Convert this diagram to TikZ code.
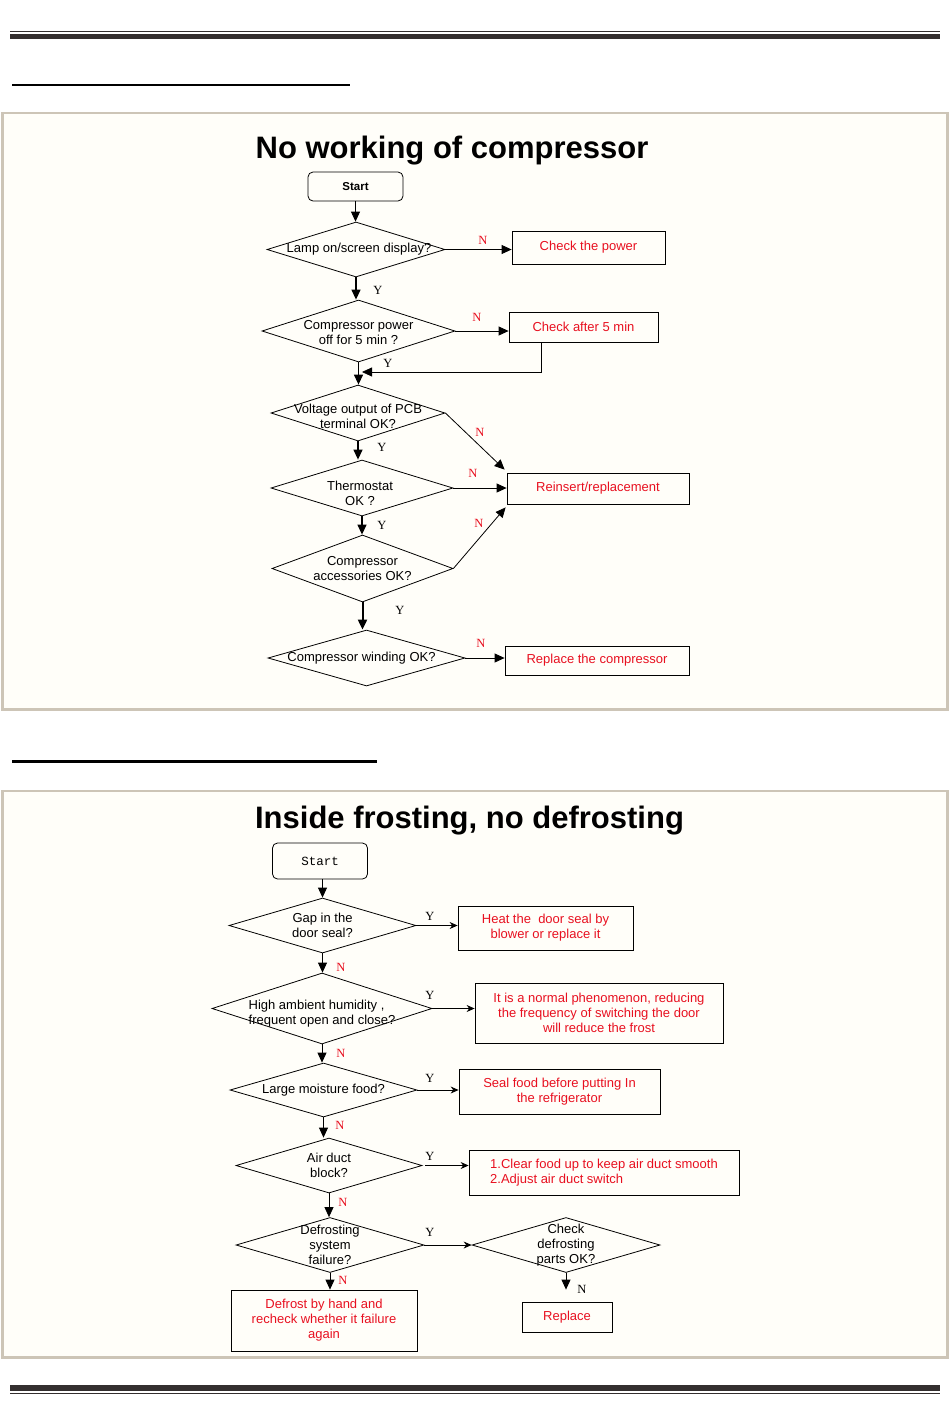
\documentclass[tikz,border=0pt]{standalone}
\usepackage{fontspec}
\setmainfont{Liberation Sans}
\newfontfamily\labelfont{Liberation Serif}
\newfontfamily\startfont{Liberation Mono}
\usepackage{tikz}
\usetikzlibrary{arrows.meta,shapes.geometric}

\definecolor{framegray}{RGB}{205,197,183}
\definecolor{rulegray}{RGB}{52,47,47}
\definecolor{txtred}{RGB}{232,16,32}

\begin{document}
\begin{tikzpicture}[x=1pt,y=-1pt,>={Triangle[length=10pt,width=9pt]},line width=0.8pt,
    every node/.style={font=\fontsize{13}{15}\selectfont},
    dia/.style 2 args={diamond,draw,inner sep=0pt,minimum width=#1pt,minimum height=#2pt},
    box/.style 2 args={rectangle,draw,inner sep=0pt,minimum width=#1pt,minimum height=#2pt,text=txtred,align=center},
    startbox/.style 2 args={rectangle,rounded corners=5pt,draw,minimum width=#1pt,minimum height=#2pt},
    ylab/.style={font=\labelfont\fontsize{12.5}{12}\selectfont},
    nlab/.style={ylab,text=txtred},
    title/.style={anchor=base,font=\bfseries\fontsize{31}{31}\selectfont},
    frame/.style={draw=framegray,line width=2.5pt,fill={rgb,255:red,255;green,254;blue,249}},
    yarrow/.style={-{Stealth[length=8pt,width=7pt]}}]

  \useasboundingbox (0,0) rectangle (950,1419);
  \fill[white] (0,0) rectangle (950,1419);

  % page rules
  \draw[rulegray,line width=1.2pt] (10,31.3) -- (940,31.3);
  \fill[rulegray] (10,33.5) rectangle (940,39.2);
  \draw[line width=2.5pt] (12,85) -- (350,85);
  \draw[line width=2.5pt] (12,761.5) -- (377,761.5);
  \fill[rulegray] (10,1385) rectangle (940,1391);
  \draw[rulegray,line width=1.2pt] (10,1393.5) -- (940,1393.5);

  \draw[frame] (2.5,113) rectangle (947.5,709.5);
  \draw[frame] (2.5,791) rectangle (947.5,1357.5);

  % no working of compressor
  \node[title] (title1) at (452,158) {No working of compressor};
  \node[startbox={95}{29},font=\bfseries\fontsize{11.5}{13}\selectfont] (start1) at (355.5,186.5) {Start};
  \node[dia={178}{55},label={[xshift=3pt]center:Lamp on/screen display?}] (lamp) at (356,249.5) {};
  \node[box={153}{33}] (power) at (588.5,247.5) {Check the power};
  \node[dia={193}{62},label={[align=center,yshift=-2pt]center:Compressor power\\off for 5 min ?}] (off) at (358.5,331) {};
  \node[box={149}{30}] (wait) at (583.5,327) {Check after 5 min};
  \node[dia={174}{56},label={[align=center,yshift=-3pt]center:Voltage output of PCB\\terminal OK?}] (pcb) at (358,413) {};
  \node[box={182}{31}] (reinsert) at (598,488.5) {Reinsert/replacement};
  \node[dia={182}{56},label={[align=center,yshift=-5pt,xshift=-2pt]center:Thermostat\\OK ?}] (thermo) at (362,488) {};
  \node[dia={181}{67},label={[align=center]center:Compressor\\accessories OK?}] (acc) at (362.5,568.5) {};
  \node[dia={197}{56},label={[xshift=-5pt]center:Compressor winding OK?}] (winding) at (366.5,658) {};
  \node[box={184}{29}] (compr) at (597,660.5) {Replace the compressor};
  \coordinate (back) at (362,372);

  \path[->]
    (start1) edge (start1.south |- lamp.north)
    (lamp.south) edge[line width=1.3pt] (lamp.south |- off.north)
    (off.south) edge[line width=1.3pt] (off.south |- pcb.north)
    (pcb.south) edge[line width=1.3pt] (pcb.south |- thermo.north)
    (thermo.south) edge[line width=1.3pt] (thermo.south |- acc.north)
    (acc.south) edge[line width=2pt] (acc.south |- winding.north)
    (lamp.east) edge (lamp.east -| power.west)
    (off.east) edge (off.east -| wait.west)
    (pcb.east) edge ([xshift=-2pt,yshift=3pt]reinsert.north west)
    (thermo.east) edge (thermo.east -| reinsert.west)
    (acc.east) edge ([xshift=-1pt,yshift=-3pt]reinsert.south west)
    (winding.east) edge (winding.east -| compr.west);
  \draw[->] ([xshift=33pt]wait.south west) |- (back);

  \node[nlab] (n1) at (483,240) {N};
  \node[ylab] (y1) at (378,290) {Y};
  \node[nlab] (n2) at (477,317) {N};
  \node[ylab] (y2) at (388,363) {Y};
  \node[nlab] (n3) at (480,432) {N};
  \node[ylab] (y3) at (382,447) {Y};
  \node[nlab] (n4) at (473,473) {N};
  \node[ylab] (y4) at (382,525) {Y};
  \node[nlab] (n5) at (479,523) {N};
  \node[ylab] (y5) at (400,610) {Y};
  \node[nlab] (n6) at (481,643) {N};

  % inside frosting, no defrosting
  \node[title] (title2) at (469.5,828) {Inside frosting, no defrosting};
  \node[startbox={95}{36},font=\startfont\fontsize{12.5}{14}\selectfont] (start2) at (320,861) {Start};
  \node[dia={187}{55},label={[align=center]center:Gap in the\\door seal?}] (gap) at (322.5,925.5) {};
  \node[box={175}{44}] (heat) at (545.5,928) {Heat the~ door seal by\\blower or replace it};
  \node[dia={220}{71},label={[align=left,yshift=-5pt]center:High ambient humidity ,\\frequent open and close?}] (humid) at (322,1008.5) {};
  \node[box={248}{60}] (normal) at (599,1013) {It is a normal phenomenon, reducing\\the frequency of switching the door\\will reduce the frost};
  \node[dia={187}{54},label={center:Large moisture food?}] (moist) at (323.5,1090) {};
  \node[box={201}{45}] (seal) at (559.5,1091.5) {Seal food before putting In\\the refrigerator};
  \node[dia={186}{55},label={[align=center]center:Air duct\\block?}] (duct) at (329,1165.5) {};
  \node[box={270}{45},align=left] (clear) at (604,1172.5) {1.Clear food up to keep air duct smooth\\2.Adjust air duct switch};
  \node[dia={188}{55},label={[align=center]center:Defrosting\\system\\failure?}] (defrost) at (330,1245) {};
  \node[dia={188}{55},label={[align=center]center:Check\\defrosting\\parts OK?}] (parts) at (566,1245) {};
  \node[box={186}{61}] (hand) at (324,1320.5) {Defrost by hand and\\recheck whether it failure\\again};
  \node[box={90}{30}] (replace) at (567,1317) {Replace};

  \path[->]
    (gap.north |- start2.south) edge (gap.north)
    (gap.south) edge (gap.south |- humid.north)
    (humid.south) edge (humid.south |- moist.north)
    (moist.south) edge (moist.south |- duct.north)
    (duct.south) edge (duct.south |- defrost.north)
    (defrost.south) edge (defrost.south |- hand.north)
    (parts.south) edge ([yshift=12pt]parts.south |- replace.north);
  \path[yarrow]
    (gap.east) edge (gap.east -| heat.west)
    (humid.east) edge (humid.east -| normal.west)
    (moist.east) edge (moist.east -| seal.west)
    ([xshift=3pt]duct.east) edge (duct.east -| clear.west)
    (defrost.east) edge (parts.west);

  \node[ylab] (y6) at (430,916) {Y};
  \node[ylab] (y7) at (430,995) {Y};
  \node[ylab] (y8) at (430,1078) {Y};
  \node[ylab] (y9) at (430,1156) {Y};
  \node[ylab] (y10) at (430,1232) {Y};
  \node[nlab] (n7) at (341,967) {N};
  \node[nlab] (n8) at (341,1053) {N};
  \node[nlab] (n9) at (340,1125) {N};
  \node[nlab] (n10) at (343,1202) {N};
  \node[nlab] (n11) at (343,1280) {N};
  \node[ylab] (n12) at (582,1289) {N};
\end{tikzpicture}
\end{document}
